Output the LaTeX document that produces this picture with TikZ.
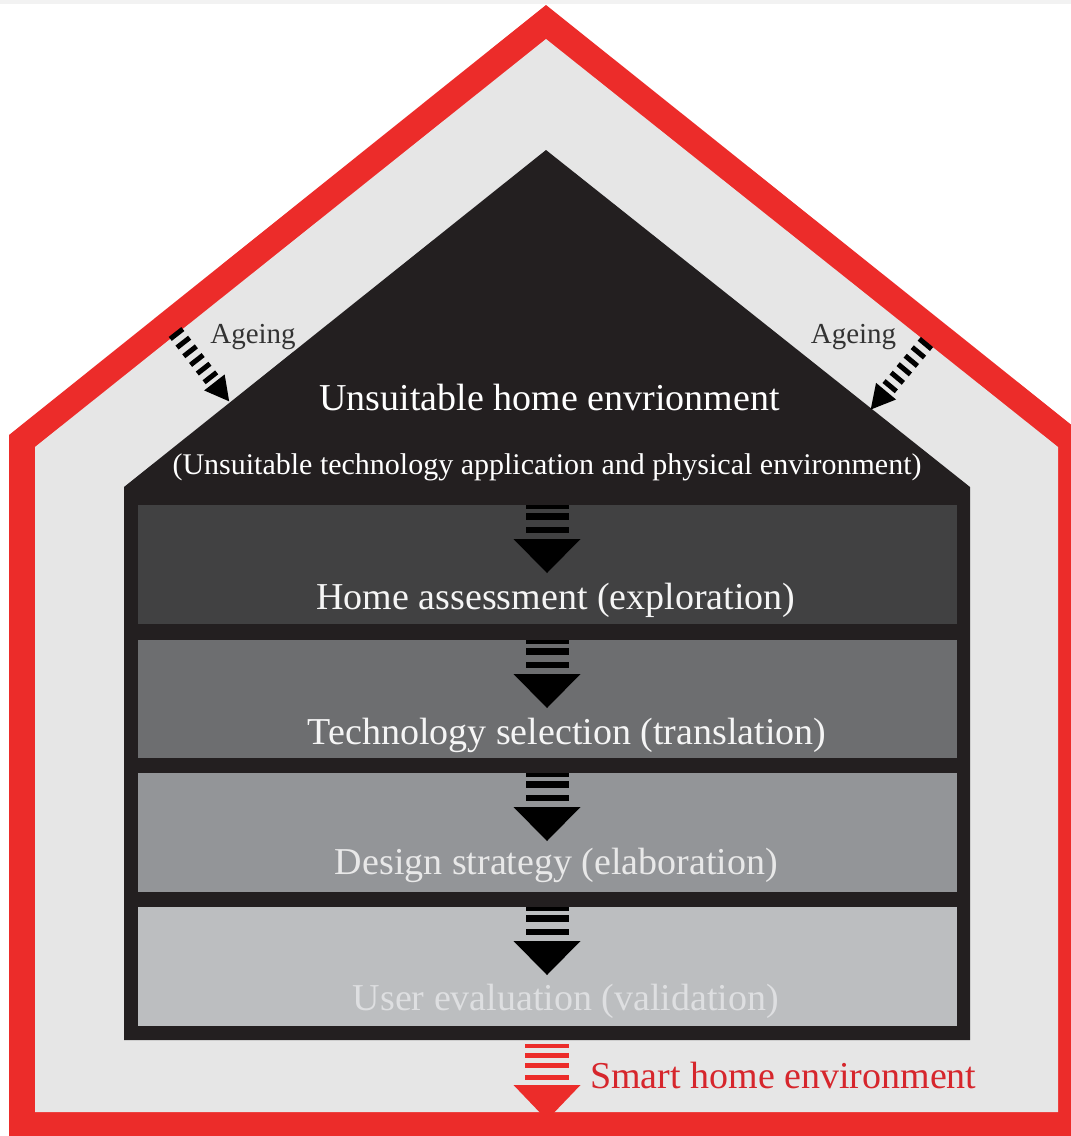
\documentclass[tikz,border=0pt]{standalone}
\usepackage{fontspec}
\setmainfont{Liberation Serif}
\definecolor{housered}{RGB}{236,44,42}
\definecolor{textred}{RGB}{214,38,44}
\definecolor{lightbg}{RGB}{230,230,230}
\definecolor{darkhouse}{RGB}{35,31,32}
\definecolor{boxA}{RGB}{65,65,66}
\definecolor{boxB}{RGB}{109,110,112}
\definecolor{boxC}{RGB}{147,149,152}
\definecolor{boxD}{RGB}{188,190,192}
\definecolor{txtA}{RGB}{245,245,245}
\definecolor{txtC}{RGB}{232,232,232}
\definecolor{txtD}{RGB}{222,223,225}
\begin{document}
\begin{tikzpicture}[x=1pt,y=-1pt,
  bigtext/.style={font=\fontsize{38}{40}\selectfont, inner sep=0pt, anchor=base},
  subtext/.style={font=\fontsize{30}{32}\selectfont, inner sep=0pt, anchor=base},
  agetext/.style={font=\fontsize{29}{31}\selectfont, inner sep=0pt, anchor=base, text=black!80},
  stage/.style={inner sep=0pt, outer sep=0pt},
  pics/stepdown/.style={code={
    \fill[#1] (-21.5,0) rectangle (21.5,4);
    \fill[#1] (-21.5,8) rectangle (21.5,15);
    \fill[#1] (-21.5,22) rectangle (21.5,28);
    \fill[#1] (-33.5,34) -- (33.5,34) -- (0,68) -- cycle;
  }},
  pics/reddown/.style={code={
    \fill[#1] (-22,0) rectangle (22,4);
    \fill[#1] (-22,9) rectangle (22,14);
    \fill[#1] (-22,19) rectangle (22,24);
    \fill[#1] (-22,31) rectangle (22,36);
    \fill[#1] (-33.5,41) -- (33.5,41) -- (0,76) -- cycle;
  }},
  pics/agearrow/.style={code={
    \foreach \t in {0,11,22,33,44,55}{
      \fill[#1] (\t,-8) rectangle (\t+5,8);
    }
    \fill[#1] (64,-13) -- (64,13) -- (88,0) -- cycle;
  }}
]
\useasboundingbox (0,0) rectangle (1071,1136);
\clip (0,0) rectangle (1071,1136);
\fill[white] (0,0) rectangle (1071,1136);
\fill[black!5] (0,0) rectangle (1071,4);

% outer red house and light interior
\fill[housered] (9,1150) -- (9,435) -- (546,5) -- (1084,435) -- (1084,1150) -- cycle;
\fill[lightbg] (35,1112) -- (35,447) -- (546,39) -- (1058,447) -- (1058,1112) -- cycle;

% dark inner house
\fill[darkhouse] (124,1040) -- (124,487) -- (546,150) -- (970,487) -- (970,1040) -- cycle;

% stage boxes
\node[stage, fill=boxA, minimum width=819pt, minimum height=119pt, anchor=north west] (s1) at (138,505) {};
\node[stage, fill=boxB, minimum width=819pt, minimum height=118pt, anchor=north west] (s2) at (138,640) {};
\node[stage, fill=boxC, minimum width=819pt, minimum height=119pt, anchor=north west] (s3) at (138,773) {};
\node[stage, fill=boxD, minimum width=819pt, minimum height=119pt, anchor=north west] (s4) at (138,907) {};

% step arrows
\pic at (547,505) {stepdown=black};
\pic at (547,640) {stepdown=black};
\pic at (547,773) {stepdown=black};
\pic at (547,907) {stepdown=black};
\pic at (547,1044) {reddown=housered};

% ageing arrows
\pic[shift={(175,332)}, rotate=-52] {agearrow=black};
\pic[shift={(927,342)}, rotate=-129.8] {agearrow=black};

% texts
\node[bigtext, text=white] (title) at (549.5,410) {Unsuitable home envrionment};
\node[subtext, text=white] (subtitle) at (547,474) {(Unsuitable technology application and physical environment)};
\node[bigtext, text=txtA] (t1) at (556,609) {Home assessment (exploration)};
\node[bigtext, text=txtA] (t2) at (567,744) {Technology selection (translation)};
\node[bigtext, text=txtC] (t3) at (556.5,874) {Design strategy (elaboration)};
\node[bigtext, text=txtD] (t4) at (566,1010) {User evaluation (validation)};
\node[agetext] (ageL) at (253,343) {Ageing};
\node[agetext] (ageR) at (853.5,343) {Ageing};
\node[bigtext, text=textred, anchor=base west] (smart) at (590,1088) {Smart home environment};
\end{tikzpicture}
\end{document}
